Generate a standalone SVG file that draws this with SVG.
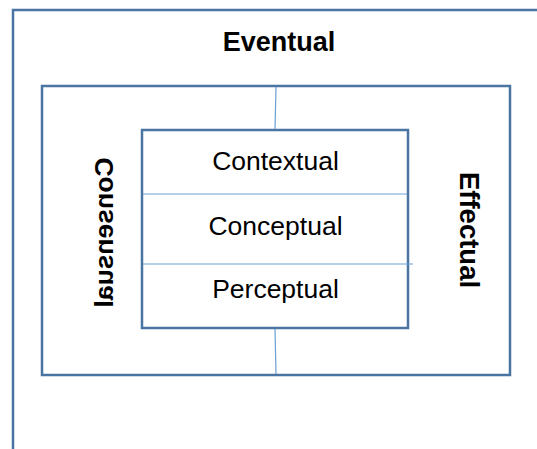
<svg xmlns="http://www.w3.org/2000/svg" width="537" height="449" viewBox="0 0 537 449">
<style>
.frame{fill:none;stroke:#4a74a2;stroke-width:2.5}
.thin{fill:none;stroke:#6a9fd4;stroke-width:1.2}
.bold{font-family:"Liberation Sans",Arial,sans-serif;font-weight:bold;font-size:26.5px;fill:#000;text-anchor:middle}
.reg{font-family:"Liberation Sans",Arial,sans-serif;font-size:26.5px;fill:#000;text-anchor:middle}
</style>
<rect width="537" height="449" fill="#fff"/>
<g id="eventual">
<path class="frame" d="M13,449 V10 H537"/>
<text class="bold" x="279" y="51" style="font-size:27px">Eventual</text>
</g>
<g id="middle">
<rect class="frame" x="42" y="86" width="468" height="289"/>
<text class="bold" transform="matrix(0,1,1,0,113,232.5)" x="0" y="0">Consensual</text>
<text class="bold" transform="translate(460,230) rotate(90)" x="0" y="0" style="font-size:27.5px">Effectual</text>
</g>
<g id="inner">
<rect class="frame" x="142" y="130" width="266" height="198"/>
</g>
<g id="contextual"><text class="reg" x="275.5" y="170">Contextual</text></g>
<g id="conceptual"><text class="reg" x="275.5" y="235">Conceptual</text></g>
<g id="perceptual"><text class="reg" x="275.5" y="298">Perceptual</text></g>
<g id="connectors">
<line class="thin" x1="276" y1="87" x2="275" y2="129"/>
<line class="thin" x1="275" y1="329" x2="276" y2="374"/>
<line class="thin" x1="143" y1="194" x2="407" y2="194"/>
<line class="thin" x1="143" y1="264" x2="413" y2="264"/>
</g>
</svg>
